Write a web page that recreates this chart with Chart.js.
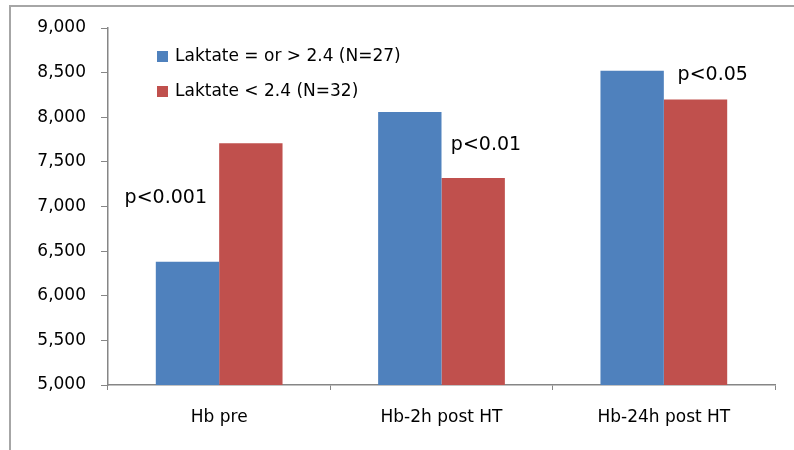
<!DOCTYPE html>
<html>
<head>
<meta charset="utf-8">
<script src="https://cdn.jsdelivr.net/npm/chart.js@4.4.0/dist/chart.umd.min.js"></script>
<style>
    body { margin: 0; background: #fff; }
    #wrap { position: relative; width: 794px; height: 450px; overflow: hidden; }
    #frame-top { position: absolute; left: 9px; top: 5px; width: 785px; height: 2px; background: #a6a6a6; }
    #frame-left { position: absolute; left: 9px; top: 5px; width: 2px; height: 445px; background: #a6a6a6; }
    canvas { position: absolute; left: 0; top: 0; }
</style>
</head>
<body>
<div id="wrap">
    <div id="frame-top"></div>
    <div id="frame-left"></div>
    <canvas id="hb-chart" width="794" height="450"></canvas>
</div>
<script>
// Data
const categories = ['Hb pre', 'Hb-2h post HT', 'Hb-24h post HT'];
const seriesNames = ['Laktate = or > 2.4 (N=27)', 'Laktate < 2.4 (N=32)'];
const highLactate = [6380, 8060, 8520];
const lowLactate = [7710, 7320, 8200];
const seriesColors = ['#4f81bd', '#c0504d'];

// p-value notes: text, category position, value position
const pTexts = ['p<0.001', 'p<0.01', 'p<0.05'];
const pCatPos = [-0.24, 1.2, 2.22];
const pValPos = [7100, 7690, 8470];

const yMin = 5000;
const yMax = 9000;
const yStep = 500;

const FONT = '"DejaVu Sans", Verdana, sans-serif';

// draws legend inside plot + p-value labels
const overlayPlugin = {
    id: 'overlay',
    afterDraw(chart) {
        const ctx = chart.ctx;
        const area = chart.chartArea;
        const xs = chart.scales.x;
        const ys = chart.scales.y;

        ctx.save();
        ctx.font = '17px ' + FONT;
        ctx.textBaseline = 'middle';
        chart.data.datasets.forEach((ds, i) => {
            const lx = area.left + 49;
            const ly = area.top + 28 + i * 35;
            ctx.fillStyle = ds.backgroundColor;
            ctx.fillRect(lx, ly - 5, 11, 11);
            ctx.fillStyle = '#000';
            ctx.textAlign = 'left';
            ctx.fillText(ds.label, lx + 18, ly + 1);
        });

        ctx.font = '19px ' + FONT;
        ctx.textAlign = 'center';
        ctx.fillStyle = '#000';
        pTexts.forEach((t, i) => {
            ctx.fillText(t, xs.getPixelForValue(pCatPos[i]), ys.getPixelForValue(pValPos[i]));
        });
        ctx.restore();
    }
};

new Chart(document.getElementById('hb-chart'), {
    type: 'bar',
    data: {
        labels: categories,
        datasets: [{
            label: seriesNames[0],
            data: highLactate,
            backgroundColor: seriesColors[0],
            borderWidth: 0,
            categoryPercentage: 0.57,
            barPercentage: 1.0
        }, {
            label: seriesNames[1],
            data: lowLactate,
            backgroundColor: seriesColors[1],
            borderWidth: 0,
            categoryPercentage: 0.57,
            barPercentage: 1.0
        }]
    },
    options: {
        responsive: false,
        animation: false,
        devicePixelRatio: 1,
        layout: {
            padding: { left: 0, right: 19, top: 28, bottom: 0 }
        },
        plugins: {
            legend: { display: false },
            tooltip: { enabled: false }
        },
        scales: {
            x: {
                grid: {
                    offset: true,
                    drawOnChartArea: false,
                    drawTicks: true,
                    tickLength: 5,
                    color: '#868686'
                },
                border: { color: '#868686', width: 1.5 },
                ticks: {
                    color: '#000',
                    font: { family: FONT, size: 17 },
                    padding: 17
                },
                afterFit(scale) { scale.height = 65; }
            },
            y: {
                min: yMin,
                max: yMax,
                grid: {
                    drawOnChartArea: false,
                    drawTicks: true,
                    tickLength: 7,
                    color: '#868686'
                },
                border: { color: '#868686', width: 1.5 },
                ticks: {
                    stepSize: yStep,
                    color: '#000',
                    font: { family: FONT, size: 17 },
                    padding: 15,
                    callback: function(value) {
                        return value.toLocaleString('en-US');
                    }
                },
                afterFit(scale) { scale.width = 108; }
            }
        }
    },
    plugins: [overlayPlugin]
});
</script>
</body>
</html>
